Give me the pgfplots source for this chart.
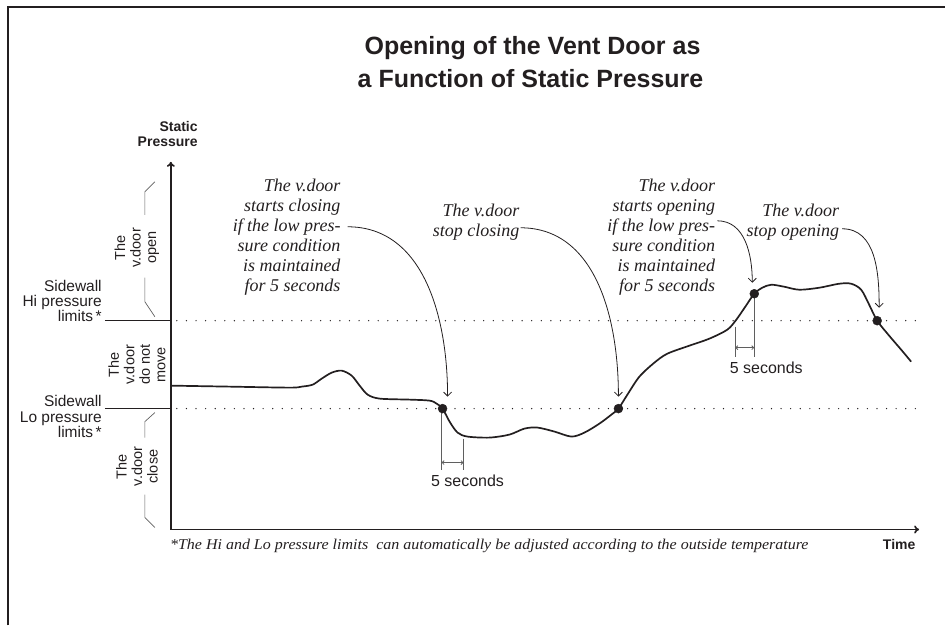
\documentclass[border=0pt]{standalone}
\usepackage{fontspec}
\setmainfont{Liberation Serif}
\setsansfont{Liberation Sans}
\usepackage{pgfplots}
\pgfplotsset{compat=1.18}
\usetikzlibrary{arrows.meta}
\definecolor{ink}{RGB}{35,31,32}
\definecolor{guide}{RGB}{95,95,95}
\newcommand{\fs}[2]{\fontsize{#1}{#2}\selectfont}

\begin{document}
\begin{tikzpicture}[
  anno/.style={font=\fs{18}{20}\itshape, text=ink, inner sep=0pt, anchor=base east},
  side/.style={font=\fs{15.5}{16}\sffamily, text=ink, inner sep=0pt, anchor=base east},
  zone/.style={font=\fs{14.5}{15.5}\sffamily, text=ink, inner sep=0pt, rotate=90, align=center},
  callout/.style={ink, line width=0.8pt, -{Straight Barb[length=4pt,width=8pt]}},
  brace/.style={guide, line width=0.7pt},
]
\begin{axis}[
  x=1pt, y=1pt,
  xmin=171, xmax=920, ymin=0, ymax=368,
  axis lines=left,
  axis line style={ink, line width=1.7pt, -{To[length=5pt,width=8pt]}},
  xtick=\empty, ytick=\empty,
  clip=false,
]
% page frame (only left and top edges visible)
\path (axis cs:0,-96) rectangle (axis cs:946,530);
\draw[ink, line width=1.8pt] (axis cs:8,-96) -- (axis cs:8,523) -- (axis cs:946,523);

% title
\node[font=\fs{25}{30}\sffamily\bfseries, text=ink, anchor=base] at (axis cs:533,475) {Opening of the Vent Door as};
\node[font=\fs{25}{30}\sffamily\bfseries, text=ink, anchor=base] at (axis cs:531,442) {a Function of Static Pressure};

% axis labels
\node[font=\fs{14}{15}\sffamily\bfseries, text=ink, inner sep=0pt, anchor=base east] at (axis cs:198,398) {Static};
\node[font=\fs{14}{15}\sffamily\bfseries, text=ink, inner sep=0pt, anchor=base east] at (axis cs:198,383) {Pressure};
\node[font=\fs{14}{15}\sffamily\bfseries, text=ink, anchor=center] at (axis cs:900,-15) {Time};

% pressure limits
\addplot[ink, line width=1.4pt, line cap=round, dash pattern=on 0pt off 9.6pt] coordinates {(177,209) (920,209)};
\addplot[ink, line width=1.4pt, line cap=round, dash pattern=on 0pt off 9.6pt] coordinates {(177,121) (920,121)};
\draw[ink, line width=0.8pt] (axis cs:105,209) -- (axis cs:171,209);
\draw[ink, line width=0.8pt] (axis cs:105,121) -- (axis cs:171,121);
\node[side] at (axis cs:102,238) {Sidewall};
\node[side] at (axis cs:102,223) {Hi pressure};
\node[side] at (axis cs:102,208) {limits\,*};
\node[side] at (axis cs:102,123) {Sidewall};
\node[side] at (axis cs:102,107) {Lo pressure};
\node[side] at (axis cs:102,92) {limits\,*};

% zones
\draw[brace] (axis cs:155,348) -- (axis cs:145,338) -- (axis cs:145,315);
\draw[brace] (axis cs:145,252) -- (axis cs:145,228) -- (axis cs:155,213);
\node[zone] at (axis cs:137,282) {The\\v.door\\open};
\node[zone] at (axis cs:137,165) {The\\v.door\\do not\\move};
\draw[brace] (axis cs:155,117) -- (axis cs:145,108) -- (axis cs:145,92);
\draw[brace] (axis cs:145,35) -- (axis cs:145,12) -- (axis cs:155,2);
\node[zone] at (axis cs:137,63) {The\\v.door\\close};

% static pressure over time
\addplot[ink, line width=1.7pt, smooth, tension=0.5] coordinates {
  (171,144) (230,143) (290,142) (302,143) (313,145) (322,151) (332,157)
  (342,159) (352,154) (360,144) (368,135) (380,131) (410,130) (430,129)
  (437,126) (443,121) (450,108) (458,97) (468,93) (490,92) (510,95)
  (525,101) (538,102) (555,98) (572,93) (585,97) (600,106) (612,115)
  (619,121) (628,135) (640,153) (655,167) (668,176) (690,184) (710,191)
  (728,200) (737,210) (746,223) (755,236) (763,242) (772,245) (785,243)
  (800,240) (820,242) (840,246) (852,246) (862,240) (870,225) (878,209)
  (890,194) (902,180) (912,168)
};
% switching events
\addplot[only marks, mark=*, mark size=4.5pt, mark options={fill=ink, draw=ink}] coordinates {
  (443,121) (619,121) (755,236) (878,209)
};

% 5 second delays
\draw[guide, line width=0.8pt] (axis cs:442,121) -- (axis cs:442,60);
\draw[guide, line width=0.8pt] (axis cs:464,91) -- (axis cs:464,60);
\draw[guide, line width=0.8pt, {Straight Barb[length=2pt,width=4pt]}-{Straight Barb[length=2pt,width=4pt]}] (axis cs:442,67) -- (axis cs:464,67);
\node[font=\fs{16}{18}\sffamily, text=ink, anchor=center] at (axis cs:468,49) {5 seconds};
\draw[guide, line width=0.8pt] (axis cs:736,203) -- (axis cs:736,173);
\draw[guide, line width=0.8pt] (axis cs:755,236) -- (axis cs:755,173);
\draw[guide, line width=0.8pt, {Straight Barb[length=2pt,width=4pt]}-{Straight Barb[length=2pt,width=4pt]}] (axis cs:736,182) -- (axis cs:755,182);
\node[font=\fs{16}{18}\sffamily, text=ink, anchor=center] at (axis cs:767,162) {5 seconds};

% callouts
\node[anno] at (axis cs:341,338) {The v.door};
\node[anno] at (axis cs:341,318) {starts closing};
\node[anno] at (axis cs:341,298) {if the low pres-};
\node[anno] at (axis cs:341,278) {sure condition};
\node[anno] at (axis cs:341,258) {is maintained};
\node[anno] at (axis cs:341,238) {for 5 seconds};
\draw[callout] (axis cs:348,303) to[out=0, in=90] (axis cs:448,133);

\node[anno] at (axis cs:520,313) {The v.door};
\node[anno] at (axis cs:520,293) {stop closing};
\draw[callout] (axis cs:521,302) to[out=0, in=90] (axis cs:619,133);

\node[anno] at (axis cs:716,338) {The v.door};
\node[anno] at (axis cs:716,318) {starts opening};
\node[anno] at (axis cs:716,298) {if the low pres-};
\node[anno] at (axis cs:716,278) {sure condition};
\node[anno] at (axis cs:716,258) {is maintained};
\node[anno] at (axis cs:716,238) {for 5 seconds};
\draw[callout] (axis cs:718,309) to[out=0, in=90] (axis cs:753,247);

\node[anno] at (axis cs:840,313) {The v.door};
\node[anno] at (axis cs:840,293) {stop opening};
\draw[callout] (axis cs:843,301) to[out=0, in=90] (axis cs:880,222);

% footnote
\node[font=\fs{15}{16}\itshape, text=ink, inner sep=0pt, anchor=base west, xscale=1.067] at (axis cs:170,-20) {*The Hi and Lo pressure limits~ can automatically be adjusted according to the outside temperature};
\end{axis}
\end{tikzpicture}
\end{document}
